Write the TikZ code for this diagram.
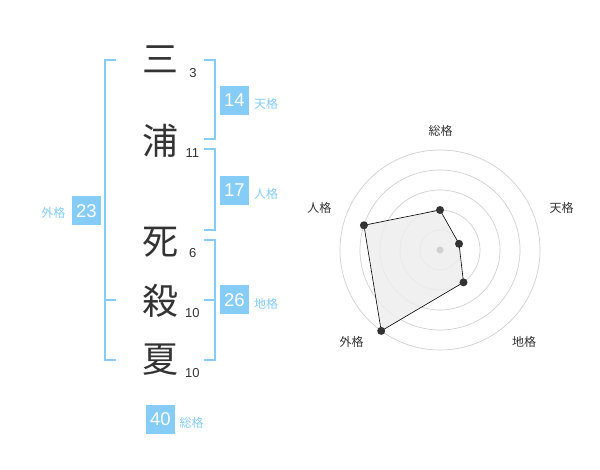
\documentclass[tikz,border=0pt]{standalone}
\usepackage{fontspec}
\usetikzlibrary{calc}
\setmainfont{Liberation Sans}
\newfontfamily\cjk{Noto Sans CJK JP}
\definecolor{kblue}{HTML}{85CCF7}
\definecolor{ktext}{HTML}{333333}
\definecolor{kring}{HTML}{D0D0D0}
\begin{document}
\begin{tikzpicture}[x=1pt,y=-1pt,
  kanji/.style={inner sep=0pt,text=ktext,font=\cjk\fontsize{36}{36}\selectfont},
  strokes/.style={inner sep=0pt,text=ktext,font=\fontsize{13}{13}\selectfont},
  scorebox/.style={fill=kblue,text=white,minimum width=29pt,minimum height=29pt,inner sep=0pt,font=\fontsize{18.5}{18.5}\selectfont},
  kaku/.style={inner sep=0pt,text=kblue,font=\cjk\fontsize{12}{12}\selectfont},
  axislabel/.style={inner sep=0pt,text=ktext,font=\cjk\fontsize{12}{12}\selectfont},
  bracket/.style={draw=kblue,line width=2pt},
  ring/.style={draw=kring,line width=0.7pt},
  datapt/.style={circle,fill=ktext,inner sep=0pt,minimum size=8pt},
]
\useasboundingbox (0,0) rectangle (600,470);
% characters
\node[kanji] (c1) at (160,59) {三};
\node[kanji] (c2) at (160,141) {浦};
\node[kanji] (c3) at (160,242) {死};
\node[kanji] (c4) at (160,301) {殺};
\node[kanji] (c5) at (160,360) {夏};
% stroke counts
\node[strokes] (n1) at (193,73) {3};
\node[strokes] (n2) at (192.3,153.3) {11};
\node[strokes] (n3) at (192.7,252.7) {6};
\node[strokes] (n4) at (192.3,312.7) {10};
\node[strokes] (n5) at (192.3,372.7) {10};
% brackets
\draw[bracket] (116,60) -- (105,60) -- (105,360) -- (116,360);
\draw[bracket] (105,300) -- (116,300);
\draw[bracket] (204,60) -- (215,60) -- (215,139) -- (204,139);
\draw[bracket] (204,149) -- (215,149) -- (215,230) -- (204,230);
\draw[bracket] (204,240) -- (215,240) -- (215,360) -- (204,360);
\draw[bracket] (204,300) -- (215,300);
% score boxes
\node[scorebox] (ten) at (234.5,100.5) {14};
\node[kaku] (tenl) at (266,104) {天格};
\node[scorebox] (jin) at (234.5,190.5) {17};
\node[kaku] (jinl) at (266,194) {人格};
\node[scorebox] (chi) at (234.5,300) {26};
\node[kaku] (chil) at (266,304) {地格};
\node[scorebox] (gai) at (86.5,211) {23};
\node[kaku] (gail) at (53.3,213) {外格};
\node[scorebox] (sou) at (160.5,419) {40};
\node[kaku] (soul) at (191.5,423) {総格};
% radar
\coordinate (o) at (440,250);
\foreach \r in {20,40,60,80,100} \draw[ring] (o) circle[radius=\r];
\coordinate (pS) at ($(o)+(0,-40)$);
\coordinate (pT) at ($(o)+({20*cos(18)},{-20*sin(18)})$);
\coordinate (pC) at ($(o)+({40*cos(54)},{40*sin(54)})$);
\coordinate (pG) at ($(o)+({-100*cos(54)},{100*sin(54)})$);
\coordinate (pJ) at ($(o)+({-80*cos(18)},{-80*sin(18)})$);
\fill[black!7,opacity=0.85] (pS) -- (pT) -- (pC) -- (pG) -- (pJ) -- cycle;
\draw[black,line width=0.6pt] (pS) -- (pT) -- (pC) -- (pG) -- (pJ) -- cycle;
\node[circle,fill=kring,inner sep=0pt,minimum size=7pt] (oc) at (o) {};
\foreach \p in {pS,pT,pC,pG,pJ} \node[datapt] at (\p) {};
\node[axislabel] (aS) at (440.7,130.7) {総格};
\node[axislabel] (aT) at (561.7,208.3) {天格};
\node[axislabel] (aC) at (524,341.7) {地格};
\node[axislabel] (aG) at (351.7,341.7) {外格};
\node[axislabel] (aJ) at (319.3,208.3) {人格};
\end{tikzpicture}
\end{document}
